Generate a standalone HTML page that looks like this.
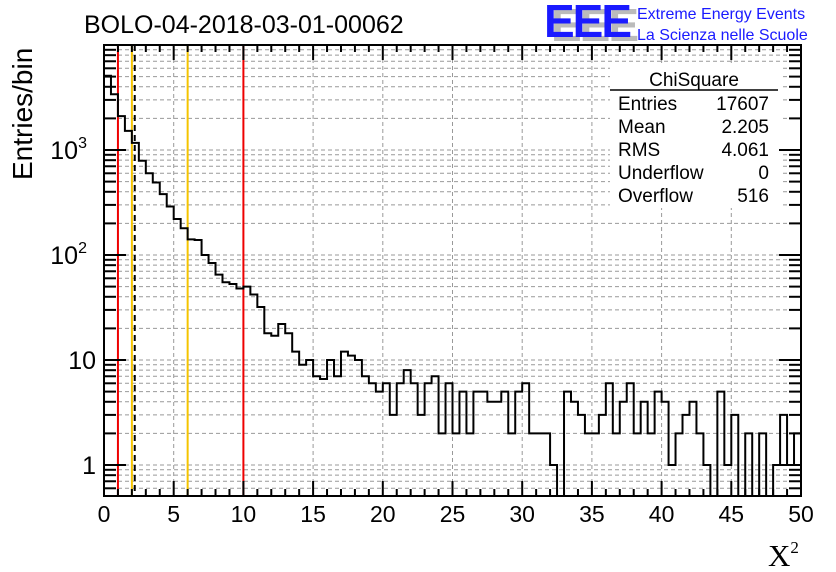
<!DOCTYPE html>
<html><head><meta charset="utf-8">
<style>
html,body{margin:0;padding:0;background:#fff;}
svg{display:block;font-family:"Liberation Sans",sans-serif;}
</style></head>
<body>
<svg id="chart" width="836" height="572" viewBox="0 0 836 572" xmlns="http://www.w3.org/2000/svg">
<rect width="836" height="572" fill="#fff"/>
<g id="grid"></g>
<g id="markers"></g>
<path id="hist" fill="none" stroke="#000" stroke-width="2"/>
<g id="stats">
<rect x="610" y="64" width="170" height="144" fill="#fff"/>
<text x="694" y="86" font-size="19" text-anchor="middle">ChiSquare</text>
<line x1="610" y1="90" x2="778" y2="90" stroke="#000" stroke-width="1.5"/>
<text x="618" y="110" font-size="19">Entries</text><text x="769" y="110" font-size="19" text-anchor="end">17607</text>
<text x="618" y="133" font-size="19">Mean</text><text x="769" y="133" font-size="19" text-anchor="end">2.205</text>
<text x="618" y="156" font-size="19">RMS</text><text x="769" y="156" font-size="19" text-anchor="end">4.061</text>
<text x="618" y="179" font-size="19">Underflow</text><text x="769" y="179" font-size="19" text-anchor="end">0</text>
<text x="618" y="202" font-size="19">Overflow</text><text x="769" y="202" font-size="19" text-anchor="end">516</text>
</g>
<g id="axes"></g>
<rect x="104" y="45" width="697" height="451" fill="none" stroke="#000" stroke-width="2"/>
<text x="84" y="33" font-size="25">BOLO-04-2018-03-01-00062</text>
<g>
<text x="551" y="41" font-size="46" font-weight="bold" fill="#bbb" letter-spacing="-2">EEE</text>
<text x="544" y="37" font-size="46" font-weight="bold" fill="#1a1aff" letter-spacing="-2">EEE</text>
<text x="637" y="19" font-size="16" fill="#1a1aff">Extreme Energy Events</text>
<text x="637" y="40" font-size="16" fill="#1a1aff">La Scienza nelle Scuole</text>
</g>
<text transform="translate(32,180) rotate(-90)" font-size="28">Entries/bin</text>
<text x="768" y="566" font-size="31" font-family="Liberation Serif,serif">X<tspan font-size="17" dy="-13">2</tspan></text>
</svg>
<script>
const counts = [5100,3400,2100,1520,1170,790,600,490,380,290,220,180,141,139,100,84,65,55,53,48,50,42,32,18,17,22,18,12,9,10,7,6.6,10,7,12,11,10,7,6,5,6,3,6,8,6,3,6,7,2,6,2,5,2,5,5,4,4,5,2,5,6,2,2,2,1,0,5,4,3,2,2,3,6,2,4,6,2,4,2,5,4,1,2,3,4,2,1,0,5,1,3,0,2,0,2,0,1,3,1,2];
const xTicks = [0,5,10,15,20,25,30,35,40,45,50];
const yDecades = [1,10,100,1000];
const yDecadeLabels = ["1","10","10|2","10|3"];
const markerValues = [1.0,2.0,2.205,6.0,10.0];
const markerColors = ["#e00","#f5c400","#000","#f5c400","#e00"];
const binWidth = 0.5;

const X0=104,X1=801,Y0=496,YT=45;
const xs = v => X0 + (v/50)*(X1-X0);
const ys = v => v<=0 ? Y0 : Math.min(Y0, 465 - 105*Math.log10(v));
const NS="http://www.w3.org/2000/svg";
function mk(tag, attrs, parent){const e=document.createElementNS(NS,tag);for(const k in attrs)e.setAttribute(k,attrs[k]);parent.appendChild(e);return e;}
const grid=document.getElementById('grid'), axes=document.getElementById('axes'), markers=document.getElementById('markers');

for(const t of xTicks){ if(t===0||t===50) continue;
  const l=mk('line',{x1:xs(t),x2:xs(t),y1:YT,y2:Y0,stroke:'#999','stroke-dasharray':'4,3','stroke-width':1},grid);
   
}
for(const d of [0.1,1,10,100,1000]) for(let m=1;m<10;m++){
  const v=d*m, y=ys(v); if(y<=YT+1||y>=Y0-1) continue;
  const l=mk('line',{x1:X0,x2:X1,y1:y,y2:y,stroke:'#999','stroke-dasharray':'4,3','stroke-width':1},grid);
   
}
markerValues.forEach((v,i)=>{
  const l=mk('line',{x1:xs(v),x2:xs(v),y1:YT,y2:Y0,stroke:markerColors[i],'stroke-width':2},markers);
  if(i===2) l.setAttribute('stroke-dasharray','6,4');
   
});
let d='M'+X0+','+Y0;
counts.forEach((c,i)=>{const y=ys(c);d+=' L'+xs(i*binWidth)+','+y+' L'+xs((i+1)*binWidth)+','+y;});
d+=' L'+X1+','+Y0;
document.getElementById('hist').setAttribute('d',d);
for(let t=0;t<=50;t++){
  const major=t%5===0, len=major?15:7, x=xs(t);
  mk('line',{x1:x,x2:x,y1:Y0,y2:Y0-len,stroke:'#000','stroke-width':2},axes);
  mk('line',{x1:x,x2:x,y1:YT,y2:YT+len,stroke:'#000','stroke-width':2},axes);
}
xTicks.forEach(t=>{
  const e=mk('text',{x:xs(t),y:522,'font-size':23,'text-anchor':'middle'},axes);
  e.textContent=t;
   
});
for(const dd of [0.1,1,10,100,1000]) for(let m=1;m<10;m++){
  const v=dd*m, y=ys(v); if(y<YT||y>Y0) continue;
  const len=m===1?22:12;
  mk('line',{x1:X0,x2:X0+len,y1:y,y2:y,stroke:'#000','stroke-width':2},axes);
  mk('line',{x1:X1,x2:X1-len,y1:y,y2:y,stroke:'#000','stroke-width':2},axes);
}
yDecades.forEach((v,i)=>{
  const parts=yDecadeLabels[i].split('|');
  const e=mk('text',{x:parts.length>1?87:96,y:ys(v)+9,'font-size':25,'text-anchor':'end'},axes);
  e.textContent=parts[0];
  if(parts.length>1){const s=mk('tspan',{'font-size':16,dy:-11},e);s.textContent=parts[1];}
   
});
</script>
</body></html>
